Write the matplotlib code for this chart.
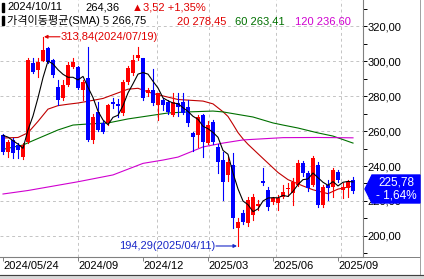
import matplotlib.pyplot as plt
from matplotlib.patches import Rectangle, Polygon
from matplotlib.ticker import FixedLocator, FuncFormatter

plt.rcParams['font.family'] = ['Liberation Sans', 'Noto Sans CJK KR']

W, H = 424, 279  # output size in px

# weekly candles (open/high/low/close)
opens = [257.7, 248.2, 254.9, 252.0, 245.1, 253.9, 298.7, 294.9, 300.2, 307.2,
         300.6, 285.3, 278.7, 286.3, 296.8, 296.6, 283.4, 290.3, 254.9, 271.0,
         264.6, 264.6, 276.5, 275.5, 270.1, 288.2, 293.0, 301.7, 301.5, 281.5,
         283.4, 274.9, 277.7, 276.7, 269.1, 276.0, 276.7, 273.9, 258.7, 257.7,
         269.1, 253.1, 265.3, 251.0, 243.4, 234.9, 240.6, 204.4, 212.9, 207.3,
         212.0, 217.0, 231.5, 226.3, 219.6, 218.9, 222.5, 227.0, 224.4, 229.1,
         241.5, 235.8, 229.1, 240.6, 217.7, 229.1, 228.2, 236.7, 226.3, 227.3,
         232.0]
highs = [258.5, 255.0, 256.0, 253.0, 253.0, 301.7, 301.5, 301.5, 313.84, 308.0,
         301.0, 289.0, 289.0, 299.6, 301.5, 297.0, 289.0, 308.2, 270.0, 276.7,
         265.5, 275.5, 278.9, 278.3, 289.0, 297.0, 303.4, 308.2, 302.0, 284.5,
         295.4, 282.0, 279.0, 277.7, 281.5, 281.9, 281.9, 278.0, 259.6, 269.1,
         270.0, 266.0, 266.3, 252.5, 248.2, 245.0, 247.4, 210.0, 215.0, 222.5,
         224.0, 220.6, 238.9, 228.2, 222.5, 223.5, 229.1, 230.0, 233.0, 243.4,
         243.0, 237.0, 245.7, 242.5, 229.1, 231.9, 238.6, 238.0, 230.0, 232.0,
         233.5]
lows = [247.0, 245.0, 244.6, 244.6, 244.0, 253.0, 293.0, 291.0, 300.0, 298.9,
        291.0, 275.0, 278.0, 285.5, 296.0, 284.0, 277.7, 254.3, 253.0, 260.0,
        258.7, 263.5, 273.1, 268.0, 269.0, 287.0, 292.0, 300.6, 278.0, 280.0,
        274.9, 266.3, 272.0, 270.0, 268.5, 268.6, 269.5, 263.0, 248.6, 251.0,
        245.3, 252.5, 252.5, 236.2, 220.6, 231.5, 204.4, 194.29, 207.0, 205.5,
        209.0, 215.0, 229.1, 214.9, 218.0, 215.0, 221.7, 222.9, 217.7, 228.5,
        234.5, 225.5, 228.5, 216.7, 216.7, 220.6, 222.5, 231.0, 221.7, 222.5,
        224.5]
closes = [248.2, 253.9, 247.4, 249.0, 252.0, 300.6, 293.9, 299.6, 306.3, 299.6,
          292.0, 277.7, 286.3, 297.7, 299.6, 284.6, 288.0, 254.9, 268.2, 260.6,
          259.6, 274.9, 275.5, 274.5, 288.2, 296.0, 300.6, 303.4, 279.0, 283.4,
          275.8, 281.5, 274.9, 271.0, 276.7, 273.9, 270.1, 264.4, 256.8, 268.2,
          253.9, 263.4, 253.9, 242.5, 231.0, 242.5, 210.1, 208.2, 208.2, 220.6,
          222.5, 218.2, 230.5, 216.7, 221.7, 221.7, 225.3, 227.6, 231.0, 241.5,
          235.8, 227.3, 244.4, 217.7, 228.2, 227.3, 237.7, 232.0, 228.2, 231.0,
          225.78]

# moving average lines (values read at candle positions)
ma5 = [257.5, 256.5, 254.5, 252.5, 250.1, 260.6, 268.6, 279.0, 290.5, 300.0,
       298.3, 295.0, 292.4, 290.7, 290.7, 289.2, 291.2, 285.0, 279.1, 271.3,
       266.3, 263.6, 267.8, 269.0, 274.5, 281.8, 287.0, 292.5, 293.4, 292.5,
       288.4, 284.6, 278.9, 277.3, 276.0, 275.6, 273.3, 271.2, 268.4, 266.7,
       262.7, 261.3, 259.2, 256.4, 248.9, 246.7, 236.0, 226.9, 220.0, 217.9,
       213.9, 215.5, 220.0, 221.7, 221.9, 221.8, 223.2, 222.6, 225.5, 229.4,
       232.2, 232.6, 236.0, 233.3, 230.7, 229.0, 231.1, 228.6, 230.7, 231.2,
       230.9]
ma20_i = [0, 3, 5, 7, 9, 11, 13, 15, 17, 20, 25, 27, 30, 35, 40, 42, 44, 45,
          46, 47, 48, 49, 50, 52, 55, 57, 60, 62, 65, 67, 70]
ma20 = [256.0, 256.3, 259.0, 265.5, 272.5, 274.5, 275.3, 276.0, 277.0, 278.6,
        283.9, 284.4, 281.4, 278.0, 277.1, 275.5, 271.0, 268.3, 263.8, 259.1,
        255.5, 252.4, 249.7, 244.3, 236.3, 232.2, 228.6, 226.4, 224.2, 226.8,
        228.5]
ma60_i = [0, 4, 6, 11, 14, 17, 21, 25, 29, 33, 37, 42, 44, 50, 54, 56, 59, 63,
          66, 70]
ma60 = [249.5, 252.0, 254.5, 260.6, 263.4, 264.0, 264.6, 266.9, 268.6, 270.3,
        270.9, 271.4, 270.9, 268.0, 264.6, 263.4, 261.7, 258.9, 257.1, 253.1]
ma120_i = [0, 5, 10, 15, 22, 28, 32, 35, 40, 44, 48, 56, 63, 70]
ma120 = [224.0, 226.0, 228.5, 231.0, 234.9, 241.5, 243.4, 245.1, 250.9, 253.1,
         254.9, 256.2, 256.3, 256.1]

xtick_i = [0, 15, 28, 41, 54, 67]
xtick_lab = ["2024/05/24", "2024/09", "2024/12", "2025/03", "2025/06", "2025/09"]
vgrid_i = [15, 30.8, 41.2, 54.6, 67.6]

UP, DOWN = "#ff0000", "#0000ff"


def fx(px):
    return px / W


def fy(py):
    return 1 - py / H


fig = plt.figure(figsize=(W / 100, H / 100), dpi=100)
fig.patch.set_facecolor("white")
ax = fig.add_axes([0, fy(256.7), 363 / W, 256.7 / H])
ax.set_xlim(-0.6, 72.0)
ax.set_ylim(188.17, 334.86)

# grid
for p in range(200, 321, 20):
    ax.axhline(p, color="#c4c4c4", lw=0.7, ls=(0, (3, 3)), zorder=0)
for v in vgrid_i:
    ax.axvline(v, color="#c4c4c4", lw=0.7, ls=(0, (3, 3)), zorder=0)

# candles
for i, (o, h, l, c) in enumerate(zip(opens, highs, lows, closes)):
    col = UP if c >= o else DOWN
    ax.plot([i, i], [l, h], color=col, lw=0.8, zorder=3)
    lo, hi = min(o, c), max(o, c)
    ax.add_patch(Rectangle((i - 0.37, lo), 0.74, max(hi - lo, 0.6),
                           facecolor=col, edgecolor="none", zorder=4))

ax.plot(range(len(ma5)), ma5, color="black", lw=0.8, zorder=5)
ax.plot(ma20_i, ma20, color="#c00000", lw=0.8, zorder=2)
ax.plot(ma60_i, ma60, color="#007000", lw=0.8, zorder=2)
ax.plot(ma120_i, ma120, color="#d000d0", lw=0.8, zorder=2)

# high / low notes
ax.annotate("", xy=(8.2, 313.84), xytext=(11.4, 313.84),
            arrowprops=dict(arrowstyle="-|>", color="#e00000", lw=0.8,
                            mutation_scale=5, shrinkA=0, shrinkB=0))
ax.text(11.6, 313.84, "313,84(2024/07/19)", color="#e00000", fontsize=8,
        va="center", ha="left")
ax.annotate("", xy=(46.8, 194.29), xytext=(42.6, 194.29),
            arrowprops=dict(arrowstyle="-|>", color="#1a28c8", lw=0.8,
                            mutation_scale=5, shrinkA=0, shrinkB=0))
ax.text(42.4, 194.29, "194,29(2025/04/11)", color="#1a28c8", fontsize=8,
        va="center", ha="right")

# axes look
for s in ["left", "top"]:
    ax.spines[s].set_visible(False)
ax.spines["right"].set_color("#808080")
ax.spines["bottom"].set_color("#808080")
ax.yaxis.tick_right()
ax.yaxis.set_major_locator(FixedLocator(range(200, 321, 20)))
ax.yaxis.set_minor_locator(FixedLocator(range(190, 331, 10)))
ax.yaxis.set_major_formatter(FuncFormatter(lambda v, p: f"{v:.2f}".replace(".", ",")))
ax.tick_params(axis="y", which="major", length=3, width=0.7, pad=0.5,
               labelsize=8, colors="black")
ax.tick_params(axis="y", which="minor", length=3, width=0.7)
ax.set_xticks(xtick_i)
ax.set_xticklabels(xtick_lab)
for t in ax.get_xticklabels():
    t.set_horizontalalignment("left")
ax.tick_params(axis="x", length=3, width=0.7, pad=0, labelsize=8,
               color="#808080")

# header lines
fig.add_artist(Rectangle((fx(1.7), fy(11.7)), fx(2.5), 9 / H,
                         transform=fig.transFigure, color="black"))
fig.add_artist(Rectangle((fx(1.7), fy(25)), fx(2.5), 9 / H,
                         transform=fig.transFigure, color="black"))
hdr = [(7, 7.5, "2024/10/11", "black"), (85, 7.5, "264,36", "black"),
       (132, 7.5, "▲3,52 +1,35%", "#e00000"),
       (7, 21, "가격이동평균(SMA) 5 266,75", "black"),
       (177, 21, "20 278,45", "#e00000"), (235, 21, "60 263,41", "#007000"),
       (295, 21, "120 236,60", "#d000d0")]
for x, y, s, c in hdr:
    fig.text(fx(x), fy(y), s, color=c, fontsize=8, va="center", ha="left",
             family=["Liberation Sans", "Noto Sans CJK KR", "DejaVu Sans"])

# frame pieces outside the axes
fig.add_artist(plt.Line2D([fx(363), fx(420)], [fy(256.7), fy(256.7)],
                          color="#808080", lw=0.7))
fig.add_artist(plt.Line2D([fx(420), fx(420)], [fy(0), fy(275)],
                          color="#a0a0a0", lw=0.7))
fig.add_artist(Rectangle((0, 0), 1, 4 / H, transform=fig.transFigure,
                         color="#d8d8d8"))
fig.add_artist(plt.Line2D([0, 1], [fy(275), fy(275)], color="#404040", lw=0.8))

# last price box
box = Polygon([(fx(372), fy(175)), (fx(420), fy(175)), (fx(420), fy(203)),
               (fx(372), fy(203)), (fx(365), fy(189))],
              closed=True, transform=fig.transFigure, color="#0000ff", zorder=5)
fig.add_artist(box)
fig.text(fx(396), fy(182.5), "225,78", color="white", fontsize=8.5,
         ha="center", va="center", zorder=6)
fig.text(fx(396), fy(195), "- 1,64%", color="white", fontsize=8.5,
         ha="center", va="center", zorder=6)

fig.savefig("out.png", dpi=100)
